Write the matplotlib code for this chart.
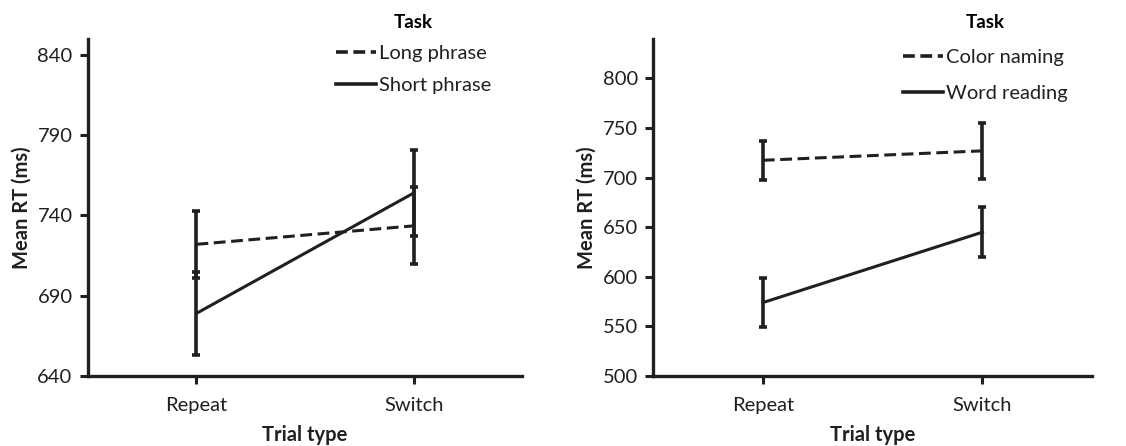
import numpy as np
import matplotlib.pyplot as plt

plt.rcParams['font.family'] = ['Lato', 'DejaVu Sans']
plt.rcParams['lines.scale_dashes'] = False

# Dane
trial_types = ['Repeat', 'Switch']

long_phrase = np.array([722, 733.5])
long_phrase_err = np.array([21, 24])
short_phrase = np.array([679, 754])
short_phrase_err = np.array([26, 27])

color_naming = np.array([717.5, 727])
color_naming_err = np.array([19.5, 28])
word_reading = np.array([574, 645])
word_reading_err = np.array([25, 25.5])

x = np.arange(len(trial_types))
ink = '#231f20'

fig = plt.figure(figsize=(11.26, 4.46), dpi=100)
ax1 = fig.add_axes([0.078, 0.157, 0.386, 0.756])
ax2 = fig.add_axes([0.580, 0.157, 0.390, 0.756])


def draw_panel(ax, dashed, dashed_err, solid, solid_err, labels, ylim, yticks):
    ax.errorbar(x, dashed, yerr=dashed_err, color=ink, lw=2.2,
                dashes=(8.5, 4), elinewidth=2.6, capsize=3, capthick=2.6,
                label=labels[0])
    ax.errorbar(x, solid, yerr=solid_err, color=ink, lw=2.2,
                elinewidth=2.6, capsize=3, capthick=2.6, label=labels[1])
    ax.set_xlim(-0.5, 1.5)
    ax.set_ylim(*ylim)
    ax.set_yticks(yticks)
    ax.set_xticks(x)
    ax.set_xticklabels(trial_types)
    for s in ['top', 'right']:
        ax.spines[s].set_visible(False)
    for s in ['left', 'bottom']:
        ax.spines[s].set_linewidth(2.4)
        ax.spines[s].set_color(ink)
    ax.tick_params(axis='both', width=2.2, length=6, labelsize=14.5,
                   color=ink, labelcolor=ink, pad=5)
    ax.tick_params(axis='x', pad=9)
    ax.set_xlabel('Trial type', fontsize=14.5, fontweight='bold', labelpad=8,
                  color=ink)
    ax.set_ylabel('Mean RT (ms)', fontsize=14.5, fontweight='bold', labelpad=4,
                  color=ink)


draw_panel(ax1, long_phrase, long_phrase_err, short_phrase, short_phrase_err,
           ['Long phrase', 'Short phrase'], (640, 850), [640, 690, 740, 790, 840])
draw_panel(ax2, color_naming, color_naming_err, word_reading, word_reading_err,
           ['Color naming', 'Word reading'], (500, 840), [500, 550, 600, 650, 700, 750, 800])

# Legendy z tytułem "Task"
for ax, bx, sp in [(ax1, 0.298, 0.7), (ax2, 0.802, 0.9)]:
    h, l = ax.get_legend_handles_labels()
    h = [hh[0] for hh in h]
    leg = ax.legend(h, l, title='Task', loc='upper left',
                    bbox_to_anchor=(bx, 0.968), bbox_transform=fig.transFigure,
                    frameon=False, fontsize=14.5, handlelength=2.0,
                    handletextpad=0.15, labelspacing=sp, borderpad=0,
                    borderaxespad=0)
    leg.get_title().set_fontweight('bold')
    leg.get_title().set_fontsize(13.5)
    for t in leg.get_texts():
        t.set_color(ink)
    for ln in leg.get_lines():
        ln.set_linewidth(2.6)

fig.savefig('out.png', dpi=100)
